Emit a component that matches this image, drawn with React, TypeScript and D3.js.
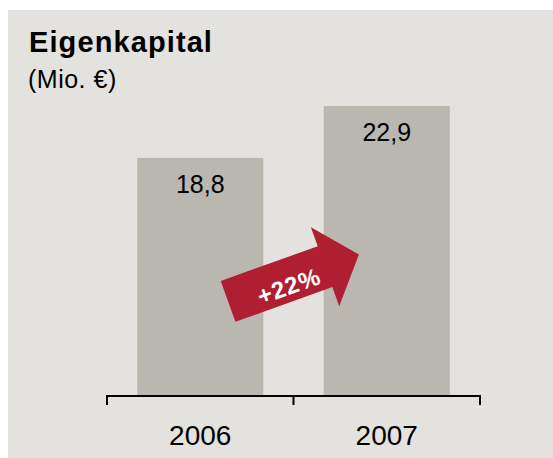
import React, { useEffect, useRef } from 'react'
import * as d3 from 'd3'

// values
const years = ['2006', '2007']
const equity = [18.8, 22.9]
const title = 'Eigenkapital'
const unit = '(Mio. €)'

const W = 553
const H = 458
const FONT = '"Liberation Sans", Arial, Helvetica, sans-serif'

const makeSVG = (node: SVGSVGElement) => {
  const svg = d3.select(node)
  svg.selectAll('*').remove()

  const axisY = 396
  const x = d3
    .scaleBand<string>()
    .domain(years)
    .range([107, 480])
    .paddingInner(0.324)
    .paddingOuter(0.162)
  const y = d3.scaleLinear().domain([0, 22.9]).range([axisY, 106])

  // background panel
  svg
    .append('rect')
    .attr('x', 8)
    .attr('y', 10)
    .attr('width', W - 8)
    .attr('height', H - 10)
    .attr('fill', '#e3e2de')

  // title
  svg
    .append('text')
    .attr('x', 29)
    .attr('y', 52)
    .attr('font-family', FONT)
    .attr('font-weight', 'bold')
    .attr('font-size', 29)
    .attr('letter-spacing', 1.1)
    .attr('fill', '#000')
    .text(title)

  svg
    .append('text')
    .attr('x', 28)
    .attr('y', 88)
    .attr('font-family', FONT)
    .attr('font-size', 25)
    .attr('letter-spacing', 0.5)
    .attr('fill', '#000')
    .text(unit)

  // bars
  const data = years.map((yr, i) => ({ yr, v: equity[i] }))
  svg
    .append('g')
    .selectAll('rect')
    .data(data)
    .enter()
    .append('rect')
    .attr('x', (d) => x(d.yr)!)
    .attr('y', (d) => y(d.v))
    .attr('width', x.bandwidth())
    .attr('height', (d) => axisY - y(d.v))
    .attr('fill', '#bab7b0')

  // value labels
  svg
    .append('g')
    .selectAll('text')
    .data(data)
    .enter()
    .append('text')
    .attr('x', (d) => x(d.yr)! + x.bandwidth() / 2)
    .attr('y', (d) => y(d.v) + 35)
    .attr('text-anchor', 'middle')
    .attr('font-family', FONT)
    .attr('font-size', 25)
    .attr('fill', '#000')
    .text((d) => d3.format('.1f')(d.v).replace('.', ','))

  // axis line with ticks at band edges
  const [r0, r1] = x.range()
  const step = x.step()
  const tickXs = [r0, r0 + step, r1]
  const axis = svg.append('g').attr('stroke', '#000').attr('stroke-width', 2)
  axis
    .append('line')
    .attr('x1', r0)
    .attr('x2', r1)
    .attr('y1', axisY)
    .attr('y2', axisY)
  axis
    .selectAll('line.tick')
    .data(tickXs)
    .enter()
    .append('line')
    .attr('class', 'tick')
    .attr('x1', (d) => d)
    .attr('x2', (d) => d)
    .attr('y1', axisY - 1)
    .attr('y2', axisY + 9)

  svg
    .append('g')
    .selectAll('text')
    .data(years)
    .enter()
    .append('text')
    .attr('x', (d) => x(d)! + x.bandwidth() / 2)
    .attr('y', 445)
    .attr('text-anchor', 'middle')
    .attr('font-family', FONT)
    .attr('font-size', 28)
    .attr('fill', '#000')
    .text((d) => d)

  // growth arrow between the bars
  const growth = Math.round((equity[1] / equity[0] - 1) * 100)
  const cx = r0 + step
  const cy = y(equity[0] / 2) + 1
  const half = 69.5
  const headLen = 36
  const shaftW = 21.7
  const headW = 42
  const pts: [number, number][] = [
    [-half, -shaftW],
    [half - headLen, -shaftW],
    [half - headLen, -headW],
    [half, 0],
    [half - headLen, headW],
    [half - headLen, shaftW],
    [-half, shaftW],
  ]
  const arrow = svg
    .append('g')
    .attr('transform', `translate(${cx},${cy}) rotate(-19.7)`)
  arrow
    .append('path')
    .attr('d', d3.line()(pts) + 'Z')
    .attr('fill', '#b01e32')
  arrow
    .append('text')
    .attr('x', -7)
    .attr('y', 14.5)
    .attr('text-anchor', 'middle')
    .attr('font-family', FONT)
    .attr('font-weight', 'bold')
    .attr('font-size', 24)
    .attr('letter-spacing', 0.8)
    .attr('fill', '#fff')
    .text(`+${growth}%`)
}

const App = () => {
  const ref = useRef<SVGSVGElement>(null)

  useEffect(() => {
    if (ref.current) makeSVG(ref.current)
  }, [])

  return (
    <svg
      ref={ref}
      width={W}
      height={H}
      style={{ position: 'absolute', left: 0, top: 0, display: 'block' }}
    />
  )
}

export default App
